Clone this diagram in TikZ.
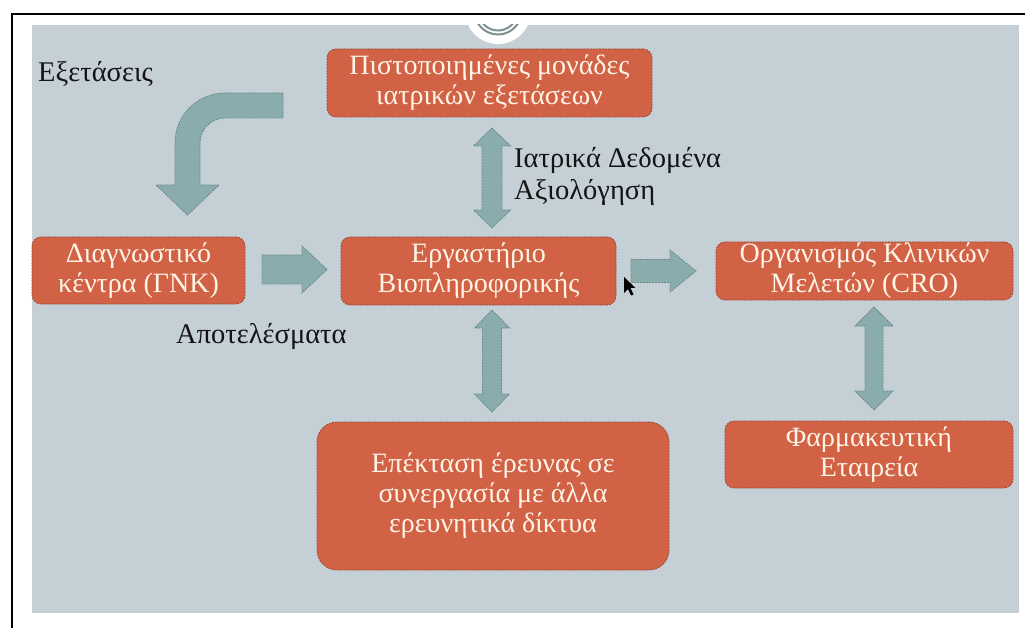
\documentclass[tikz,border=0pt]{standalone}
\usepackage{fontspec}
\setmainfont{Liberation Serif}
\definecolor{panel}{HTML}{C5D0D6}
\definecolor{boxfill}{HTML}{D16246}
\definecolor{boxline}{HTML}{9C4B3A}
\definecolor{boxtext}{HTML}{FFF4E6}
\definecolor{arrfill}{HTML}{8BACAC}
\definecolor{arrline}{HTML}{6A8A8A}
\definecolor{ringc}{HTML}{7E9090}
\definecolor{labtext}{HTML}{141414}
\tikzset{
  boxst/.style={draw=boxline, fill=boxfill, dash pattern=on 2pt off 1pt, line width=0.8pt,
    rounded corners=9pt, text=boxtext, align=center, inner sep=0pt,
    font=\fontsize{28}{30}\selectfont},
  blockarr/.style={draw=arrline, fill=arrfill, dash pattern=on 2pt off 1pt, line width=0.8pt},
  lbl/.style={text=labtext, inner sep=0pt, font=\fontsize{28.5}{32}\selectfont}
}
\begin{document}
\begin{tikzpicture}[x=1pt,y=-1pt]
\useasboundingbox (0,0) rectangle (1025,628);
\fill[white] (0,0) rectangle (1025,628);
\fill[panel] (32,25) rectangle (1019,613);
\begin{scope}
  \clip (32,25) rectangle (1019,613);
  \fill[white] (498,11) circle[radius=33];
  \draw[ringc, line width=2] (498,11) circle[radius=23.5];
  \draw[ringc, line width=2] (498,11) circle[radius=19.5];
\end{scope}
\draw[black, line width=2] (12,628) -- (12,14) -- (1025,14);

% boxes
\node[boxst, minimum width=325, minimum height=68] (pist) at (489.5,83)
  {Πιστοποιημένες μονάδες\\ιατρικών εξετάσεων};
\node[boxst, minimum width=213, minimum height=67] (diag) at (138.5,270.5)
  {Διαγνωστικό\\κέντρα (ΓΝΚ)};
\node[boxst, minimum width=275, minimum height=68] (lab) at (478.5,271)
  {Εργαστήριο\\Βιοπληροφορικής};
\node[boxst, minimum width=297, minimum height=58] (cro) at (864.5,271)
  {Οργανισμός Κλινικών\\Μελετών (CRO)};
\node[boxst, minimum width=288, minimum height=67] (pharma) at (869,454.5)
  {Φαρμακευτική\\Εταιρεία};
\node[boxst, rounded corners=20pt, minimum width=352, minimum height=148] (epek) at (493,496)
  {Επέκταση έρευνας σε\\συνεργασία με άλλα\\ερευνητικά δίκτυα};

% curved arrow
\draw[blockarr] (283,93) -- (225,93) arc[start angle=270, end angle=180, radius=50]
  -- (175,185) -- (156,185) -- (187.5,215) -- (219,185) -- (200,185) -- (200,143)
  arc[start angle=180, end angle=270, radius=25] -- (283,118) -- cycle;

% horizontal arrows
\draw[blockarr] (262,255) -- (302,255) -- (302,246) -- (327,269.5) -- (302,293) -- (302,284) -- (262,284) -- cycle;
\draw[blockarr] (631,259.5) -- (670,259.5) -- (670,250) -- (696,271) -- (670,292) -- (670,282.5) -- (631,282.5) -- cycle;

% vertical double arrows
\draw[blockarr] (492,128) -- (510.5,146) -- (502,146) -- (502,210) -- (510.5,210) -- (492,228)
  -- (473.5,210) -- (482,210) -- (482,146) -- (473.5,146) -- cycle;
\draw[blockarr] (492,310) -- (509.5,328) -- (501.5,328) -- (501.5,394) -- (509.5,394) -- (492,412)
  -- (474.5,394) -- (482.5,394) -- (482.5,328) -- (474.5,328) -- cycle;
\draw[blockarr] (874,307) -- (893,326) -- (883,326) -- (883,391) -- (893,391) -- (874,410)
  -- (855,391) -- (865,391) -- (865,326) -- (855,326) -- cycle;

% labels
\node[lbl, anchor=base west] (exet) at (38,82) {Εξετάσεις};
\node[lbl, anchor=base west] (iat1) at (514,168) {Ιατρικά Δεδομένα};
\node[lbl, anchor=base west] (iat2) at (514,200) {Αξιολόγηση};
\node[lbl, anchor=base west] (apot) at (176,343) {Αποτελέσματα};

% mouse cursor
\fill[black] (624,277) -- (624,293) -- (628,289) -- (631,295.5) -- (633.5,294.5) -- (630.5,288) -- (635.5,288) -- cycle;
\end{tikzpicture}
\end{document}
